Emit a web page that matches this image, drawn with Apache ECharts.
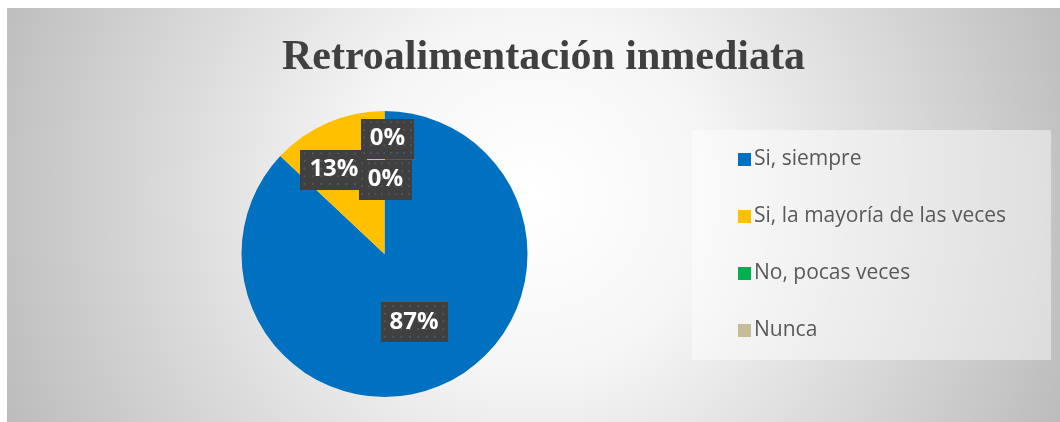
<!DOCTYPE html>
<html><head><meta charset="utf-8">
<script src="https://cdn.jsdelivr.net/npm/echarts@6/dist/echarts.min.js"></script>
<style>
html,body{margin:0;padding:0;background:#fff;}
#c{position:absolute;left:7px;top:8px;width:1053px;height:414px;}
</style></head>
<body><div id="c"></div>
<script>
const title = 'Retroalimentación inmediata';
const categories = ['Si, siempre', 'Si, la mayoría de las veces', 'No, pocas veces', 'Nunca'];
const values = [87, 13, 0, 0];
const colors = ['#0070C0', '#FFC000', '#00B050', '#C4BD97'];
const labelShift = [[0, 0], [-21, -16], [3, -41], [1, 0]];

function dotCanvas(w, h) {
  const cv = document.createElement('canvas');
  cv.width = w; cv.height = h;
  const ctx = cv.getContext('2d');
  ctx.fillStyle = '#404040'; ctx.fillRect(0, 0, w, h);
  ctx.fillStyle = '#565656';
  for (let y = 3; y < h; y += 8) for (let x = 3; x < w; x += 8) ctx.fillRect(x, y, 2, 2);
  return cv;
}

const chart = echarts.init(document.getElementById('c'));
chart.setOption({
  backgroundColor: {
    type: 'radial', x: 0.5, y: 0.45, r: 1.4,
    colorStops: [{offset: 0, color: '#ffffff'}, {offset: 0.3, color: '#f6f6f6'}, {offset: 1, color: '#bbbbbb'}]
  },
  title: {
    text: title, left: 270, top: 24,
    textStyle: {fontFamily: 'Liberation Serif', fontWeight: 'bold', fontSize: 42, color: '#404040'}
  },
  legend: {
    orient: 'vertical', left: 685, top: 122,
    data: categories,
    icon: 'rect', itemWidth: 13, itemHeight: 13, itemGap: 32,
    padding: [17, 45, 17, 46],
    backgroundColor: 'rgba(255,255,255,0.45)',
    textStyle: {fontFamily: 'Open Sans', fontSize: 21, color: '#595959', lineHeight: 25, padding: [0, 0, 0, -2]},
    selectedMode: false
  },
  series: [{
    type: 'pie', center: [377.5, 246], radius: 143,
    startAngle: 90, clockwise: true,
    avoidLabelOverlap: false,
    silent: true,
    data: categories.map((n, i) => ({name: n, value: values[i], itemStyle: {color: colors[i]}})),
    label: {
      show: true, position: 'inside', formatter: '{c}%',
      fontFamily: 'Open Sans', fontWeight: 'bold', fontSize: 24, lineHeight: 24, color: '#ffffff',
      backgroundColor: {image: dotCanvas(64, 42)},
      padding: [8, 9, 8, 9],
      shadowColor: 'rgba(0,0,0,0.45)', shadowBlur: 5, shadowOffsetX: 3, shadowOffsetY: 3
    },
    labelLine: {show: false},
    labelLayout: function (p) { const s = labelShift[p.dataIndex]; return {dx: s[0], dy: s[1]}; }
  }]
});
</script></body></html>
